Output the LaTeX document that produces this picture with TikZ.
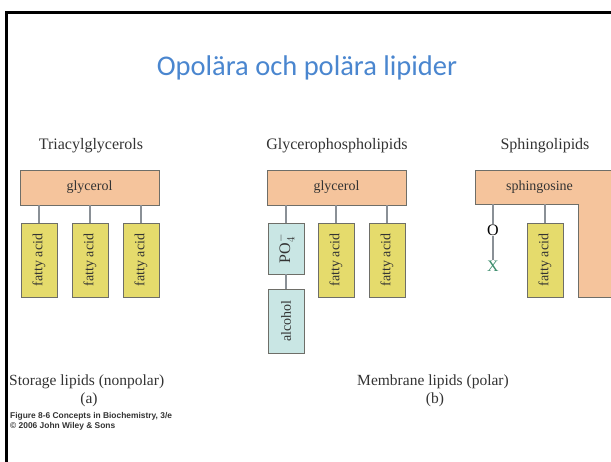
\documentclass[tikz,border=0pt]{standalone}
\usepackage{fontspec}
\setmainfont{Liberation Serif}
\newfontfamily\titlefont{Carlito}
\newfontfamily\notefont{Liberation Sans}
\definecolor{headblue}{HTML}{4A86CF}
\definecolor{headfill}{HTML}{F5C49C}
\definecolor{acidfill}{HTML}{E5DB6C}
\definecolor{polarfill}{HTML}{C9E6E4}
\definecolor{edgegray}{HTML}{6E6E68}
\definecolor{linkgray}{HTML}{8A9096}
\definecolor{inkgray}{HTML}{333333}
\definecolor{xgreen}{HTML}{3C8C6C}
\tikzset{
  boxtext/.style={font=\fontsize{14}{16}\selectfont, text=inkgray},
  headbox/.style={boxtext, draw=edgegray, fill=headfill, line width=0.9pt, inner sep=0pt},
  acidbox/.style={boxtext, draw=edgegray, fill=acidfill, line width=0.9pt, inner sep=0pt,
    minimum width=36pt, minimum height=74pt},
  polarbox/.style={boxtext, draw=edgegray, fill=polarfill, line width=0.9pt, inner sep=0pt,
    minimum width=36pt},
  link/.style={draw=linkgray, line width=1.4pt},
  grouplabel/.style={font=\fontsize{16}{18}\selectfont, text=inkgray},
  caption/.style={font=\fontsize{15.5}{18}\selectfont, text=inkgray},
  atom/.style={font=\fontsize{16}{18}\selectfont, inner sep=0.5pt},
}
\begin{document}
\begin{tikzpicture}[x=1pt,y=-1pt]
\useasboundingbox (0,0) rectangle (611,461);

% slide frame
\draw[line width=3pt] (6.5,470) -- (6.5,12.5) -- (620,12.5);

% title
\node[font=\titlefont\fontsize{28.5}{32}\selectfont, text=headblue, anchor=base, inner sep=0pt] (title) at (307,75) {Opolära och polära lipider};

% (a) triacylglycerols
\node[grouplabel] (tagLabel) at (91,146) {Triacylglycerols};
\node[headbox, minimum width=139pt, minimum height=35pt] (glyA) at (89.5,187.5) {glycerol};
\node[acidbox] (faA1) at (39,260) {\rotatebox{90}{fatty acid}};
\node[acidbox] (faA2) at (90,260) {\rotatebox{90}{fatty acid}};
\node[acidbox] (faA3) at (141,260) {\rotatebox{90}{fatty acid}};
\foreach \n in {faA1,faA2,faA3}
  \draw[link] (glyA.south -| \n.north) -- (\n.north);

% (b) glycerophospholipids
\node[grouplabel] (gplLabel) at (337,146) {Glycerophospholipids};
\node[headbox, minimum width=139pt, minimum height=35pt] (glyB) at (336.5,187.5) {glycerol};
\node[polarbox, minimum height=51pt] (po4) at (286,248.5) {\rotatebox{90}{\fontsize{16}{18}\selectfont PO$_4^-$}};
\node[polarbox, minimum height=64pt] (alc) at (286,321) {\rotatebox{90}{alcohol}};
\node[acidbox] (faB1) at (336,260) {\rotatebox{90}{fatty acid}};
\node[acidbox] (faB2) at (387,260) {\rotatebox{90}{fatty acid}};
\foreach \n in {po4,faB1,faB2}
  \draw[link] (glyB.south -| \n.north) -- (\n.north);
\draw[link] (po4.south) -- (alc.north);

% (b) sphingolipids
\node[grouplabel] (sphLabel) at (545,146) {Sphingolipids};
\fill[headfill] (475,170) -- (620,170) -- (620,297) -- (578,297) -- (578,204) -- (475,204) -- cycle;
\draw[edgegray, line width=0.9pt] (620,170) -- (475,170) -- (475,204) -- (578,204) -- (578,297) -- (620,297);
\node[boxtext] (sphingo) at (539.5,187) {sphingosine};
\coordinate (sphBase) at (475,204);
\node[atom] (oxy) at (493,230) {O};
\node[atom, text=xgreen] (xgrp) at (493,266) {X};
\node[acidbox] (faC) at (545,260) {\rotatebox{90}{fatty acid}};
\draw[link] (sphBase -| oxy) -- (oxy.north);
\draw[link] (oxy.south) -- (xgrp.north);
\draw[link] (sphBase -| faC.north) -- (faC.north);

% captions
\node[caption, anchor=west, inner sep=0pt] (capA) at (9,382) {Storage lipids (nonpolar)};
\node[caption] (capAtag) at (89,400) {(a)};
\node[caption] (capB) at (433,382) {Membrane lipids (polar)};
\node[caption] (capBtag) at (435,400) {(b)};
\node[font=\notefont\bfseries\fontsize{8.4}{10}\selectfont, text=inkgray, anchor=north west, align=left, inner sep=0pt] (credit) at (10,412) {Figure 8-6 Concepts in Biochemistry, 3/e\\\textcopyright\ 2006 John Wiley \& Sons};
\end{tikzpicture}
\end{document}
